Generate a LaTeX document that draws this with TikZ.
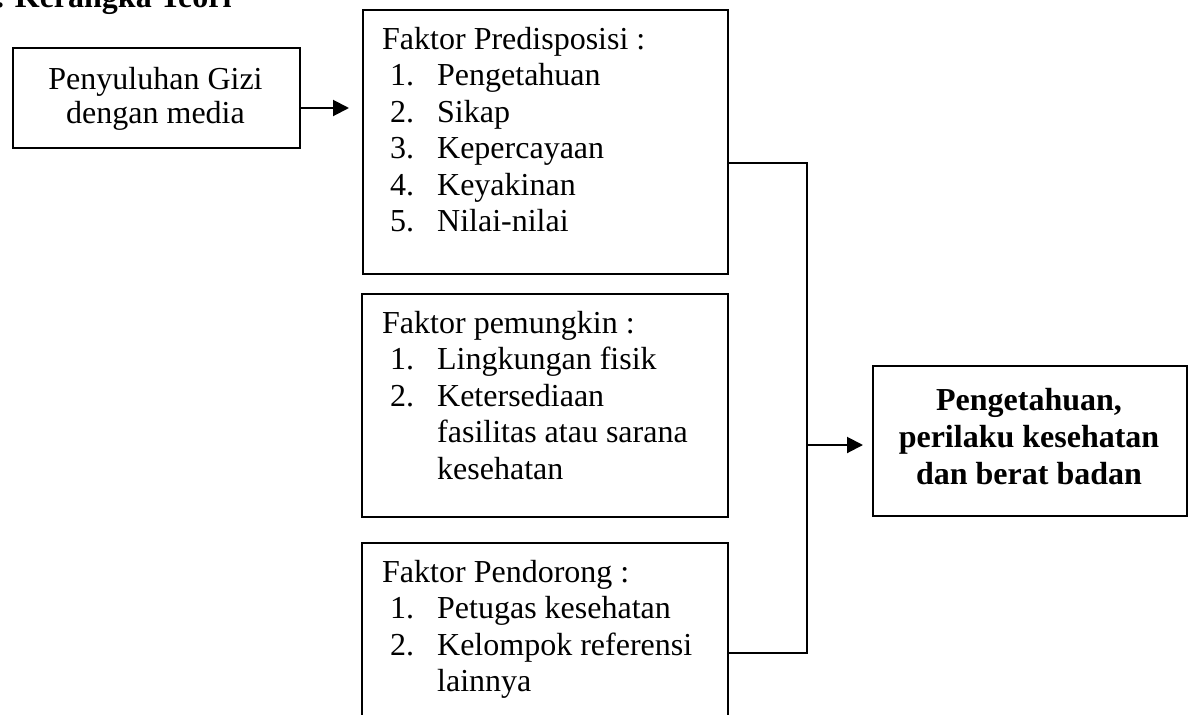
\documentclass[tikz,border=0pt]{standalone}
\usepackage{fontspec}
\setmainfont{Liberation Serif}
\usetikzlibrary{arrows.meta}
\newcommand{\itm}[2]{\hspace*{8pt}\makebox[47pt][l]{#1}#2}
\newcommand{\cnt}[1]{\hspace*{55pt}#1}
\begin{document}
\begin{tikzpicture}[x=1pt,y=-1pt,
  box/.style={draw, line width=2pt, inner sep=0pt, anchor=north west},
  txt/.style={inner sep=0pt, anchor=base west, font=\fontsize{32}{36.5}\selectfont},
  ctxt/.style={inner sep=0pt, anchor=base},
  conn/.style={line width=2pt},
  arr/.style={line width=2pt, -{Triangle[length=16pt,width=16pt]}}]
\useasboundingbox (0,0) rectangle (1192,715);
\begin{scope}
\clip (0,0) rectangle (1192,715);
% title (cut off at top)
\node[inner sep=0pt, anchor=base west, font=\fontsize{32}{36}\selectfont\bfseries] (title) at (-4,7) {. Kerangka Teori};
% boxes
\node[box, minimum width=287pt, minimum height=100pt] (b1) at (12,47) {};
\node[box, minimum width=365pt, minimum height=264pt] (b2) at (362,9) {};
\node[box, minimum width=366pt, minimum height=223pt] (b3) at (361,293) {};
\node[box, minimum width=366pt, minimum height=200pt] (b4) at (361,542) {};
\node[box, minimum width=314pt, minimum height=150pt] (b5) at (872,365) {};
% texts
\node[ctxt, font=\fontsize{32}{34}\selectfont] (t1) at (155.5,89)
  {\begin{tabular}[t]{@{}c@{}}Penyuluhan Gizi\\ dengan media\end{tabular}};
\node[txt] (t2) at (382,49)
  {\begin{tabular}[t]{@{}l@{}}Faktor Predisposisi :\\
   \itm{1.}{Pengetahuan}\\ \itm{2.}{Sikap}\\ \itm{3.}{Kepercayaan}\\
   \itm{4.}{Keyakinan}\\ \itm{5.}{Nilai-nilai}\end{tabular}};
\node[txt] (t3) at (382,333)
  {\begin{tabular}[t]{@{}l@{}}Faktor pemungkin :\\
   \itm{1.}{Lingkungan fisik}\\ \itm{2.}{Ketersediaan}\\
   \cnt{fasilitas atau sarana}\\ \cnt{kesehatan}\end{tabular}};
\node[txt] (t4) at (382,582)
  {\begin{tabular}[t]{@{}l@{}}Faktor Pendorong :\\
   \itm{1.}{Petugas kesehatan}\\ \itm{2.}{Kelompok referensi}\\
   \cnt{lainnya}\end{tabular}};
\node[ctxt, font=\fontsize{32}{37}\selectfont\bfseries] (t5) at (1029,410)
  {\begin{tabular}[t]{@{}c@{}}Pengetahuan,\\ perilaku kesehatan\\ dan berat badan\end{tabular}};
% connectors
\coordinate (s1) at ([yshift=-10pt]b1.east);
\coordinate (b2w) at ([xshift=-13pt]b2.west);
\draw[arr] (s1) -- (b2w |- s1);
\coordinate (bt) at (807,163);
\coordinate (bb) at (807,653);
\coordinate (bm) at (807,445);
\draw[conn] (b2.east |- bt) -- (bt) -- (bb) -- (b4.east |- bb);
\coordinate (b5w) at ([xshift=-9pt]b5.west);
\draw[arr] (bm) -- (b5w |- bm);
\end{scope}
\end{tikzpicture}
\end{document}
